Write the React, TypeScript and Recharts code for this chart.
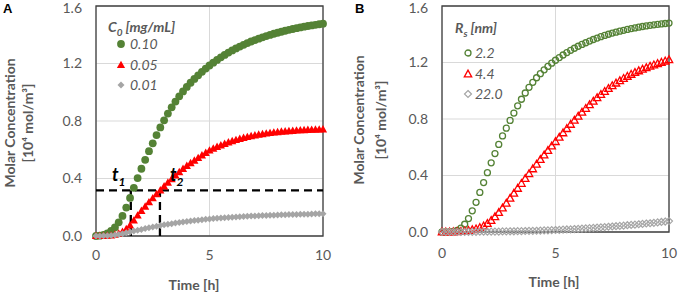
import React from "react";
import {
  ScatterChart, Scatter, XAxis, YAxis, CartesianGrid, ReferenceArea, ReferenceLine, Legend,
} from "recharts";

const FONT = "Lato, 'Open Sans', sans-serif";
const TEXT = "#595959";
const GRID = "#d9d9d9";
const FRAME = "#404040";
const GREEN = "#548235";
const RED = "#ff0000";
const SILVER = "#a5a5a5";

// sampling times in minutes (10 min steps), axis shows hours
const timeMin = [
  0, 10, 20, 30, 40, 50, 60, 70, 80, 90, 100, 110, 120, 130, 140, 150, 160, 170, 180, 190,
  200, 210, 220, 230, 240, 250, 260, 270, 280, 290, 300, 310, 320, 330, 340, 350, 360, 370, 380, 390,
  400, 410, 420, 430, 440, 450, 460, 470, 480, 490, 500, 510, 520, 530, 540, 550, 560, 570, 580, 590,
  600,
];

const xTicks = [0, 300, 600];
const yTicks = [0, 0.4, 0.8, 1.2, 1.6];

// panel A, C0 [mg/mL]
const concLabelsA = ["0.10", "0.05", "0.01"];
const concA010 = [
  0.000, 0.002, 0.008, 0.018, 0.035, 0.060, 0.095, 0.140, 0.198, 0.265, 0.335, 0.403, 0.468, 0.530, 0.590,
  0.645, 0.702, 0.755, 0.805, 0.852, 0.895, 0.935, 0.972, 1.006, 1.037, 1.066, 1.093, 1.118, 1.142, 1.165,
  1.186, 1.206, 1.225, 1.243, 1.260, 1.276, 1.291, 1.305, 1.318, 1.330, 1.342, 1.353, 1.363, 1.373, 1.382,
  1.391, 1.399, 1.407, 1.414, 1.421, 1.428, 1.434, 1.440, 1.446, 1.451, 1.456, 1.461, 1.465, 1.469, 1.473,
  1.477,
];
const concA005 = [
  0.000, 0.000, 0.001, 0.002, 0.004, 0.009, 0.017, 0.030, 0.048, 0.074, 0.108, 0.143, 0.175, 0.205, 0.235,
  0.263, 0.291, 0.318, 0.345, 0.371, 0.396, 0.421, 0.445, 0.467, 0.488, 0.507, 0.525, 0.543, 0.561, 0.578,
  0.595, 0.608, 0.620, 0.631, 0.641, 0.651, 0.660, 0.668, 0.676, 0.683, 0.689, 0.695, 0.700, 0.705, 0.709,
  0.713, 0.717, 0.720, 0.723, 0.726, 0.728, 0.730, 0.732, 0.734, 0.736, 0.737, 0.738, 0.739, 0.740, 0.741,
  0.742,
];
const concA001 = [
  0.000, 0.000, 0.001, 0.002, 0.004, 0.007, 0.011, 0.016, 0.022, 0.028, 0.034, 0.040, 0.046, 0.052, 0.058,
  0.063, 0.068, 0.073, 0.078, 0.082, 0.086, 0.090, 0.094, 0.098, 0.101, 0.104, 0.107, 0.110, 0.113, 0.116,
  0.118, 0.121, 0.123, 0.125, 0.127, 0.129, 0.131, 0.133, 0.134, 0.136, 0.137, 0.139, 0.140, 0.141, 0.142,
  0.143, 0.144, 0.145, 0.146, 0.147, 0.148, 0.149, 0.150, 0.150, 0.151, 0.152, 0.152, 0.153, 0.154, 0.154,
  0.155,
];

// panel B, Rs [nm]
const radiusLabelsB = ["2.2", "4.4", "22.0"];
const concB22 = [
  0.000, 0.000, 0.001, 0.004, 0.012, 0.028, 0.055, 0.095, 0.150, 0.210, 0.280, 0.350, 0.420, 0.490, 0.555,
  0.620, 0.680, 0.735, 0.790, 0.842, 0.893, 0.940, 0.984, 1.024, 1.060, 1.092, 1.121, 1.148, 1.172, 1.195,
  1.216, 1.235, 1.253, 1.270, 1.286, 1.301, 1.315, 1.328, 1.340, 1.352, 1.363, 1.373, 1.383, 1.392, 1.400,
  1.408, 1.415, 1.422, 1.428, 1.434, 1.440, 1.445, 1.450, 1.455, 1.459, 1.463, 1.467, 1.470, 1.473, 1.476,
  1.479,
];
const concB44 = [
  0.000, 0.000, 0.000, 0.001, 0.002, 0.004, 0.007, 0.011, 0.016, 0.022, 0.031, 0.043, 0.060, 0.082, 0.108,
  0.138, 0.170, 0.204, 0.239, 0.274, 0.309, 0.344, 0.379, 0.413, 0.447, 0.480, 0.513, 0.545, 0.577, 0.609,
  0.640, 0.671, 0.702, 0.732, 0.762, 0.791, 0.820, 0.848, 0.875, 0.901, 0.926, 0.950, 0.973, 0.995, 1.016,
  1.036, 1.054, 1.071, 1.087, 1.102, 1.116, 1.129, 1.141, 1.152, 1.163, 1.173, 1.183, 1.192, 1.201, 1.210,
  1.219,
];
const concB220 = [
  0.000, 0.000, 0.000, 0.000, 0.000, 0.000, 0.001, 0.001, 0.001, 0.001, 0.002, 0.002, 0.002, 0.003, 0.003,
  0.003, 0.004, 0.004, 0.005, 0.005, 0.006, 0.006, 0.007, 0.008, 0.008, 0.009, 0.010, 0.011, 0.012, 0.013,
  0.014, 0.015, 0.017, 0.018, 0.019, 0.021, 0.022, 0.024, 0.026, 0.027, 0.029, 0.031, 0.033, 0.035, 0.037,
  0.039, 0.041, 0.043, 0.045, 0.048, 0.050, 0.052, 0.055, 0.057, 0.060, 0.062, 0.065, 0.068, 0.071, 0.074,
  0.077,
];

// dashed guide lines in panel A
const thresholdLevel = 0.318;
const t1Min = 92;
const t2Min = 169;

type Pt = { cx?: number; cy?: number };

const filledCircle = ({ cx = 0, cy = 0 }: Pt) => <circle cx={cx} cy={cy} r={3.9} fill={GREEN} />;
const filledTriangle = ({ cx = 0, cy = 0 }: Pt) => (
  <path d={`M${cx} ${cy - 4.3}L${cx + 4.1} ${cy + 3.1}L${cx - 4.1} ${cy + 3.1}Z`} fill={RED} />
);
const filledDiamond = ({ cx = 0, cy = 0 }: Pt) => (
  <path d={`M${cx} ${cy - 3.5}L${cx + 3.5} ${cy}L${cx} ${cy + 3.5}L${cx - 3.5} ${cy}Z`} fill={SILVER} />
);
const openCircle = ({ cx = 0, cy = 0 }: Pt) => (
  <circle cx={cx} cy={cy} r={3} fill="none" stroke={GREEN} strokeWidth={1.3} />
);
const openTriangle = ({ cx = 0, cy = 0 }: Pt) => (
  <path d={`M${cx} ${cy - 3.9}L${cx + 3.7} ${cy + 2.9}L${cx - 3.7} ${cy + 2.9}Z`} fill="none" stroke={RED} strokeWidth={1.3} />
);
const openDiamond = ({ cx = 0, cy = 0 }: Pt) => (
  <path d={`M${cx} ${cy - 3.5}L${cx + 3.5} ${cy}L${cx} ${cy + 3.5}L${cx - 3.5} ${cy}Z`} fill="none" stroke={SILVER} strokeWidth={1.2} />
);

const toPoints = (vals: number[]) => timeMin.map((t, i) => ({ t, v: vals[i] }));

const seriesA = [
  { name: concLabelsA[0], vals: concA010, shape: filledCircle },
  { name: concLabelsA[1], vals: concA005, shape: filledTriangle },
  { name: concLabelsA[2], vals: concA001, shape: filledDiamond },
];
const seriesB = [
  { name: radiusLabelsB[0], vals: concB22, shape: openCircle },
  { name: radiusLabelsB[1], vals: concB44, shape: openTriangle },
  { name: radiusLabelsB[2], vals: concB220, shape: openDiamond },
];

const tickStyle = { fill: TEXT, fontSize: 14, fontFamily: FONT };

function LegendBox({ title, items, gap, textGap }: {
  title: React.ReactNode; items: typeof seriesA; gap: number; textGap: number;
}) {
  return (
    <div style={{ fontFamily: FONT, fontStyle: "italic", fontSize: 14, color: TEXT, lineHeight: "20px" }}>
      <div style={{ fontWeight: 700, height: 20, marginBottom: gap, whiteSpace: "nowrap" }}>{title}</div>
      {items.map((it) => (
        <div key={it.name} style={{ display: "flex", alignItems: "center", height: 20.5 }}>
          <svg width={14} height={14} style={{ marginLeft: 6 }}>{it.shape({ cx: 7, cy: 7 })}</svg>
          <span style={{ marginLeft: textGap }}>{it.name}</span>
        </div>
      ))}
    </div>
  );
}

function yTitle(xa: number, xb: number, cy: number) {
  return () => (
    <g fontFamily={FONT} fontWeight={700} fontSize={14} fill={TEXT}>
      <text x={xa} y={cy} transform={`rotate(-90 ${xa} ${cy})`} textAnchor="middle" dominantBaseline="central">
        Molar Concentration
      </text>
      <text x={xb} y={cy} transform={`rotate(-90 ${xb} ${cy})`} textAnchor="middle" dominantBaseline="central">
        [10⁴ mol/m³]
      </text>
    </g>
  );
}

function xTitle(x: number, y: number) {
  return () => (
    <text x={x} y={y} textAnchor="middle" fontFamily={FONT} fontWeight={700} fontSize={14} fill={TEXT}>
      Time [h]
    </text>
  );
}

const sub = { fontSize: 10, verticalAlign: "sub", lineHeight: 0 } as const;
const dash = { stroke: "#000", strokeWidth: 2.3, strokeDasharray: "8 5" };

export default function App() {
  return (
    <div style={{ position: "absolute", left: 0, top: 0, width: 678, height: 293, background: "#fff" }}>
      <div style={{ position: "absolute", left: 0, top: 0 }}>
        <ScatterChart width={339} height={293} margin={{ top: 6, right: 16, bottom: 27, left: 36 }}>
          <CartesianGrid stroke={GRID} />
          <ReferenceArea x1={0} x2={600} y1={0} y2={1.6} fill="none" stroke={FRAME} strokeWidth={1.3} />
          <XAxis type="number" dataKey="t" domain={[0, 600]} ticks={xTicks} tickFormatter={(v) => String(v / 60)}
            tickLine={false} axisLine={false} tick={tickStyle} tickMargin={8} height={30} label={xTitle(194, 290)} />
          <YAxis type="number" dataKey="v" domain={[0, 1.6]} ticks={yTicks} tickFormatter={(v) => v.toFixed(1)}
            tickLine={false} axisLine={false} tick={tickStyle} tickMargin={8} width={60} label={yTitle(9, 27, 123)} />
          {seriesA.map((s) => (
            <Scatter key={s.name} name={s.name} data={toPoints(s.vals)} shape={s.shape} isAnimationActive={false} />
          ))}
          <ReferenceLine segment={[{ x: 0, y: thresholdLevel }, { x: 600, y: thresholdLevel }]} {...dash} />
          <ReferenceLine segment={[{ x: t1Min, y: 0 }, { x: t1Min, y: thresholdLevel }]} {...dash} />
          <ReferenceLine segment={[{ x: t2Min, y: 0 }, { x: t2Min, y: thresholdLevel }]} {...dash} />
          <Legend layout="vertical" align="center" verticalAlign="middle"
            wrapperStyle={{ left: 108, top: 17, width: "auto" }}
            content={() => (
              <LegendBox title={<>C<span style={sub}>0</span> [mg/mL]</>} items={seriesA} gap={-3} textGap={2} />
            )} />
        </ScatterChart>
      </div>
      <div style={{ position: "absolute", left: 339, top: 0 }}>
        <ScatterChart width={339} height={293} margin={{ top: 6, right: 9, bottom: 31, left: 43 }}>
          <CartesianGrid stroke={GRID} />
          <ReferenceArea x1={0} x2={600} y1={0} y2={1.6} fill="none" stroke={FRAME} strokeWidth={1.3} />
          <XAxis type="number" dataKey="t" domain={[0, 600]} ticks={xTicks} tickFormatter={(v) => String(v / 60)}
            tickLine={false} axisLine={false} tick={tickStyle} tickMargin={10} height={30} label={xTitle(215, 287)} />
          <YAxis type="number" dataKey="v" domain={[0, 1.6]} ticks={yTicks} tickFormatter={(v) => v.toFixed(1)}
            tickLine={false} axisLine={false} tick={tickStyle} tickMargin={8} width={60} label={yTitle(19, 41, 120)} />
          {seriesB.map((s) => (
            <Scatter key={s.name} name={s.name} data={toPoints(s.vals)} shape={s.shape} isAnimationActive={false} />
          ))}
          <Legend layout="vertical" align="center" verticalAlign="middle"
            wrapperStyle={{ left: 116, top: 18, width: "auto" }}
            content={() => (
              <LegendBox title={<>R<span style={sub}>s</span> [nm]</>} items={seriesB} gap={5} textGap={0} />
            )} />
        </ScatterChart>
      </div>
      <div style={{ position: "absolute", left: 3, top: 1, fontFamily: "Arial, 'Liberation Sans', sans-serif", fontWeight: 700, fontSize: 13, color: "#000" }}>A</div>
      <div style={{ position: "absolute", left: 355, top: 1, fontFamily: "Arial, 'Liberation Sans', sans-serif", fontWeight: 700, fontSize: 13, color: "#000" }}>B</div>
      <div style={{ position: "absolute", left: 112, top: 165, fontFamily: FONT, fontWeight: 700, fontStyle: "italic", fontSize: 18, lineHeight: "18px", color: "#000" }}>
        t<span style={{ fontSize: 12, verticalAlign: "sub", lineHeight: 0 }}>1</span>
      </div>
      <div style={{ position: "absolute", left: 170, top: 165, fontFamily: FONT, fontWeight: 700, fontStyle: "italic", fontSize: 18, lineHeight: "18px", color: "#000" }}>
        t<span style={{ fontSize: 12, verticalAlign: "sub", lineHeight: 0 }}>2</span>
      </div>
    </div>
  );
}
